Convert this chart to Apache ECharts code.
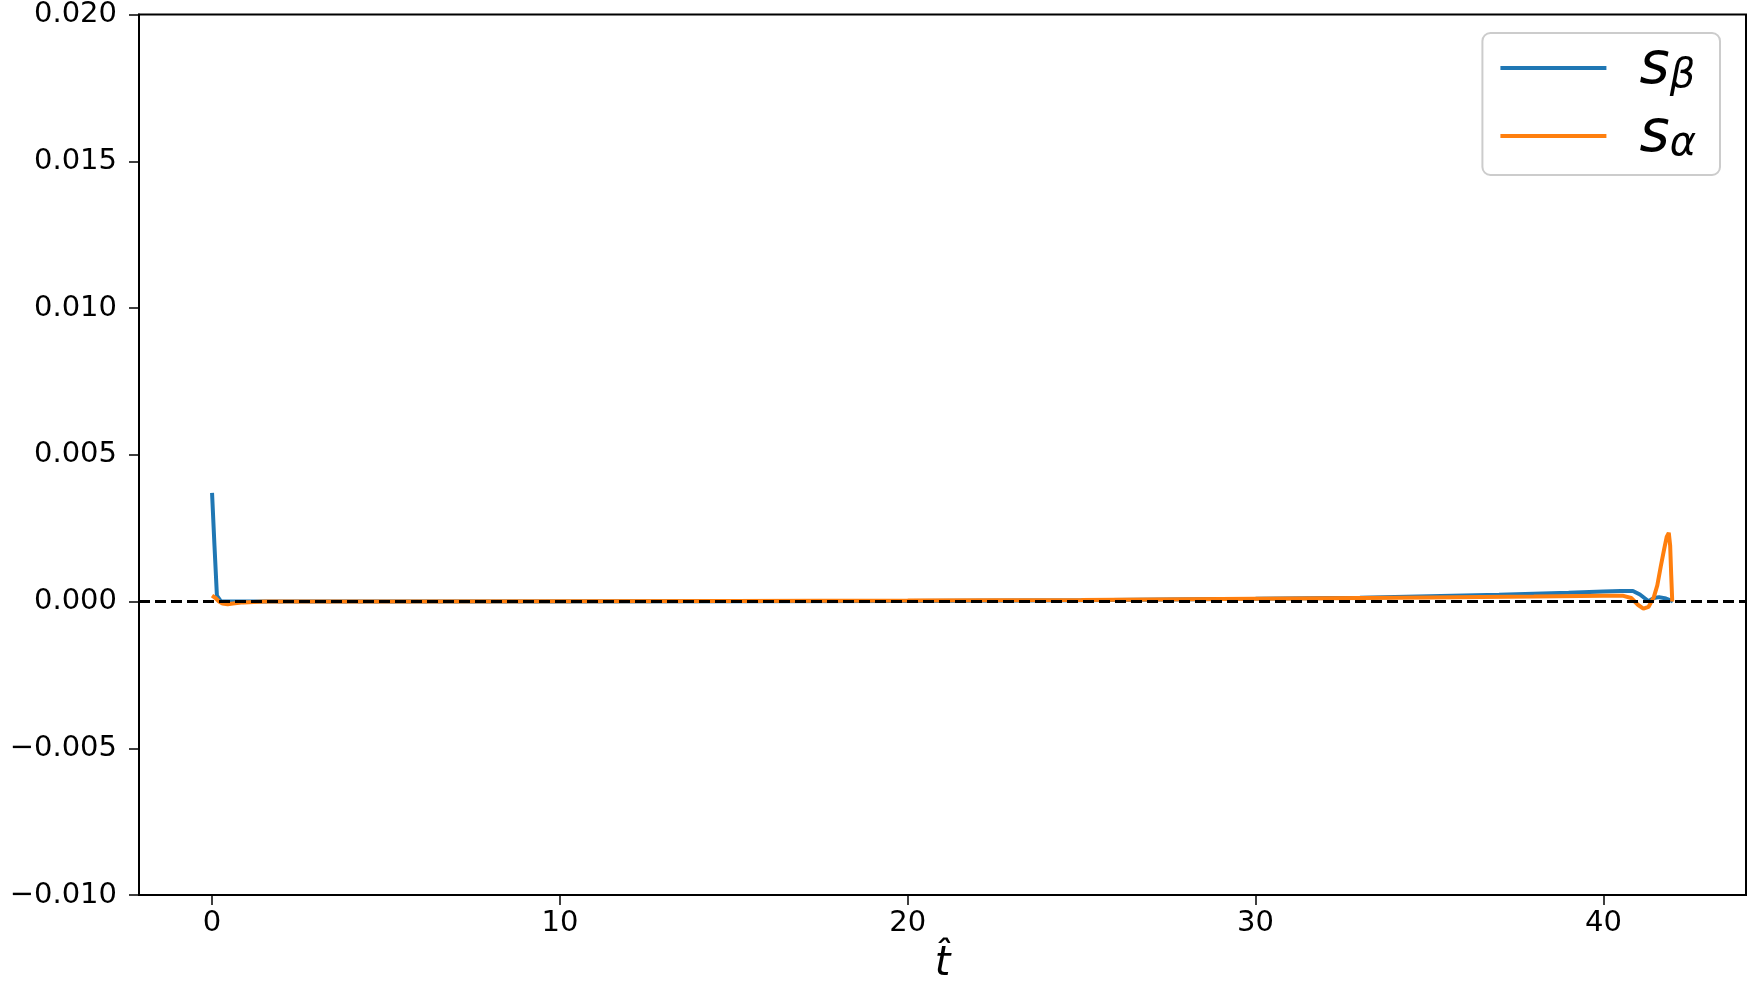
<!DOCTYPE html>
<html>
<head>
<meta charset="utf-8">
<script src="https://cdn.jsdelivr.net/npm/echarts@6/dist/echarts.min.js"></script>
<style>
  html, body { margin: 0; padding: 0; background: #fff; }
  #chart { width: 1750px; height: 990px; }
</style>
</head>
<body>
<div id="chart"></div>
<script>
// values
const tBeta = [0, 0.07, 0.14, 0.25, 0.4, 1, 5, 10, 15, 20, 25, 30, 33, 35, 37, 39, 40, 40.5, 40.85, 41.05, 41.3, 41.45, 41.6, 41.8, 41.95, 42.0];
const sBeta = [0.0037, 0.0019, 0.0002, 0.00001, 0, 0, 0, 0, 0.00001, 0.00002, 0.00004, 0.00009, 0.00013, 0.00018, 0.00023, 0.0003, 0.00034, 0.00036, 0.00036, 0.00024, 0.00001, 0.00012, 0.00015, 0.0001, 0.00003, 0];

const tAlpha = [0, 0.1, 0.2, 0.3, 0.45, 0.6, 0.9, 1.5, 5, 10, 15, 20, 25, 30, 35, 38, 40, 40.55, 40.8, 41.0, 41.15, 41.3, 41.45, 41.55, 41.65, 41.75, 41.82, 41.88, 41.92, 41.95, 41.98];
const sAlpha = [0.0002, 0.00012, 0.0, -0.00007, -0.00009, -0.00007, -0.00003, 0, 0, 0.00001, 0.00002, 0.00003, 0.00005, 0.00009, 0.00014, 0.00017, 0.0002, 0.0002, 0.00012, -0.00012, -0.00024, -0.00018, 0.00015, 0.00055, 0.0012, 0.0018, 0.0022, 0.00234, 0.0019, 0.0009, 0];

const xTicks = [0, 10, 20, 30, 40];

const zip = (xs, ys) => xs.map((x, i) => [x, ys[i]]);

const myChart = echarts.init(document.getElementById('chart'));

myChart.setOption({
  animation: false,
  textStyle: { fontFamily: 'DejaVu Sans', color: '#000' },
  grid: {
    left: 139, right: 4, top: 12, bottom: 95,
    show: true, borderColor: '#000', borderWidth: 2
  },
  legend: {
    orient: 'vertical',
    right: 30,
    top: 33,
    padding: [6, 24, 10, 18],
    borderColor: '#cccccc',
    borderWidth: 2,
    borderRadius: 8,
    itemGap: 10,
    itemWidth: 106,
    itemHeight: 4,
    icon: 'rect',
    data: ['sβ', 'sα'],
    formatter: function (name) {
      return '{s|s}{sub|' + name.slice(1) + '}';
    },
    textStyle: {
      padding: [0, 0, 0, 28],
      rich: {
        s: { fontFamily: 'DejaVu Sans', fontStyle: 'italic', fontSize: 58, lineHeight: 48, color: '#000' },
        sub: { fontFamily: 'DejaVu Sans', fontStyle: 'italic', fontSize: 40, lineHeight: 48, padding: [18, 0, 0, 0], color: '#000' }
      }
    }
  },
  xAxis: {
    type: 'value',
    min: -2.1,
    max: 44.1,
    name: 't\u0302',
    nameLocation: 'middle',
    nameGap: 50,
    nameTextStyle: { fontFamily: 'DejaVu Sans', fontStyle: 'italic', fontSize: 40, color: '#000' },
    axisLine: { onZero: false, lineStyle: { color: '#000', width: 2 } },
    axisTick: { show: true, length: 10, lineStyle: { color: '#000', width: 1.5 }, customValues: xTicks },
    axisLabel: { fontSize: 29, color: '#000', margin: 14, customValues: xTicks },
    splitLine: { show: false }
  },
  yAxis: {
    type: 'value',
    min: -0.01,
    max: 0.02,
    interval: 0.005,
    axisLine: { show: true, onZero: false, lineStyle: { color: '#000', width: 2 } },
    axisTick: { show: true, length: 10, lineStyle: { color: '#000', width: 1.5 } },
    axisLabel: {
      fontSize: 29, color: '#000', margin: 22,
      formatter: function (v) {
        const s = Math.abs(v).toFixed(3);
        return v < -1e-9 ? '\u2212' + s : s;
      }
    },
    splitLine: { show: false }
  },
  series: [
    {
      name: 'sβ',
      type: 'line',
      data: zip(tBeta, sBeta),
      showSymbol: false,
      color: '#1f77b4',
      lineStyle: { width: 4, color: '#1f77b4' }
    },
    {
      name: 'sα',
      type: 'line',
      data: zip(tAlpha, sAlpha),
      showSymbol: false,
      color: '#ff7f0e',
      lineStyle: { width: 4, color: '#ff7f0e' },
      markLine: {
        silent: true,
        symbol: 'none',
        z: 10,
        label: { show: false },
        lineStyle: { color: '#000', width: 2.8, type: [11, 5] },
        data: [{ yAxis: 0 }]
      }
    }
  ]
});
</script>
</body>
</html>
